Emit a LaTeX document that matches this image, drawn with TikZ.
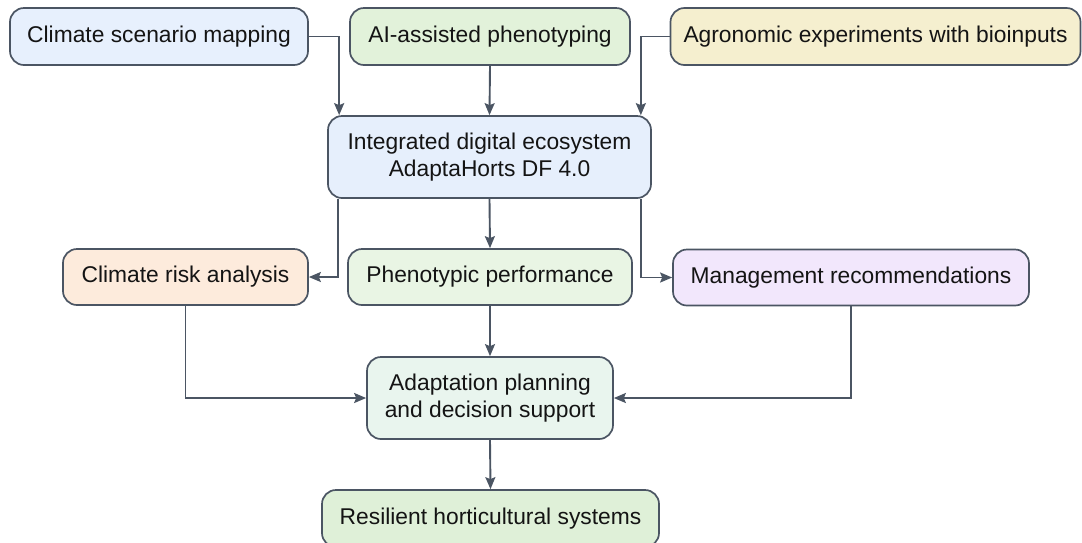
\documentclass[tikz,border=0pt]{standalone}
\usepackage{fontspec}
\setmainfont{Liberation Sans}
\usetikzlibrary{arrows.meta}
\definecolor{edge}{HTML}{4B5563}
\definecolor{cblue}{HTML}{E7F0FD}
\definecolor{cgreen}{HTML}{E2F2DA}
\definecolor{cyellow}{HTML}{F5EFCF}
\definecolor{cinteg}{HTML}{E6EFFC}
\definecolor{corange}{HTML}{FDEBDC}
\definecolor{cpheno}{HTML}{E9F5E4}
\definecolor{cviolet}{HTML}{F2E7FC}
\definecolor{cadapt}{HTML}{E9F5EE}
\definecolor{cresil}{HTML}{DFF0D8}
\begin{document}
\begin{tikzpicture}[x=1pt,y=-1pt,
  box/.style={draw=edge, line width=1.7pt, rounded corners=14pt, align=center,
    inner sep=0pt, text=black!92,
    font=\fontsize{22.8}{27}\selectfont},
  arr/.style={draw=edge, line width=1.9pt,
    -{Stealth[length=12pt,width=10pt,inset=2pt]}}]
\useasboundingbox (0,0) rectangle (1082,542);

% top row: inputs
\node[box, fill=cblue, minimum width=298pt, minimum height=57pt] (scen) at (159,36.5) {Climate scenario mapping};
\node[box, fill=cgreen, minimum width=280pt, minimum height=57pt] (ai) at (490,36.5) {AI-assisted phenotyping};
\node[box, fill=cyellow, minimum width=410pt, minimum height=57pt] (agro) at (875.5,36.5) {Agronomic experiments with bioinputs};

% central platform
\node[box, fill=cinteg, minimum width=323pt, minimum height=82pt] (integ) at (489.5,157) {Integrated digital ecosystem\\AdaptaHorts DF 4.0};

% outputs of the platform
\node[box, fill=corange, minimum width=245pt, minimum height=56pt] (risk) at (185.5,277) {Climate risk analysis};
\node[box, fill=cpheno, minimum width=284pt, minimum height=56pt] (pheno) at (490,277) {Phenotypic performance};
\node[box, fill=cviolet, minimum width=356pt, minimum height=56pt] (mgmt) at (851,277.5) {Management recommendations};

% decision layer and result
\node[box, fill=cadapt, minimum width=246pt, minimum height=82pt] (adapt) at (490,398) {Adaptation planning\\and decision support};
\node[box, fill=cresil, minimum width=337pt, minimum height=57pt] (resil) at (490.5,518.5) {Resilient horticultural systems};

% connectors
\draw[arr] (scen.east) -| ([xshift=12pt]integ.north west);
\draw[arr] (ai.south) -- (integ.north);
\draw[arr] (agro.west) -| ([xshift=-11pt]integ.north east);

\draw[arr] ([xshift=11pt]integ.south west) |- (risk.east);
\draw[arr] (integ.south) -- (pheno.north);
\draw[arr] ([xshift=-11pt]integ.south east) |- (mgmt.west);

\draw[arr] (risk.south) |- (adapt.west);
\draw[arr] (pheno.south) -- (adapt.north);
\draw[arr] (mgmt.south) |- (adapt.east);

\draw[arr] (adapt.south) -- (resil.north);
\end{tikzpicture}
\end{document}
